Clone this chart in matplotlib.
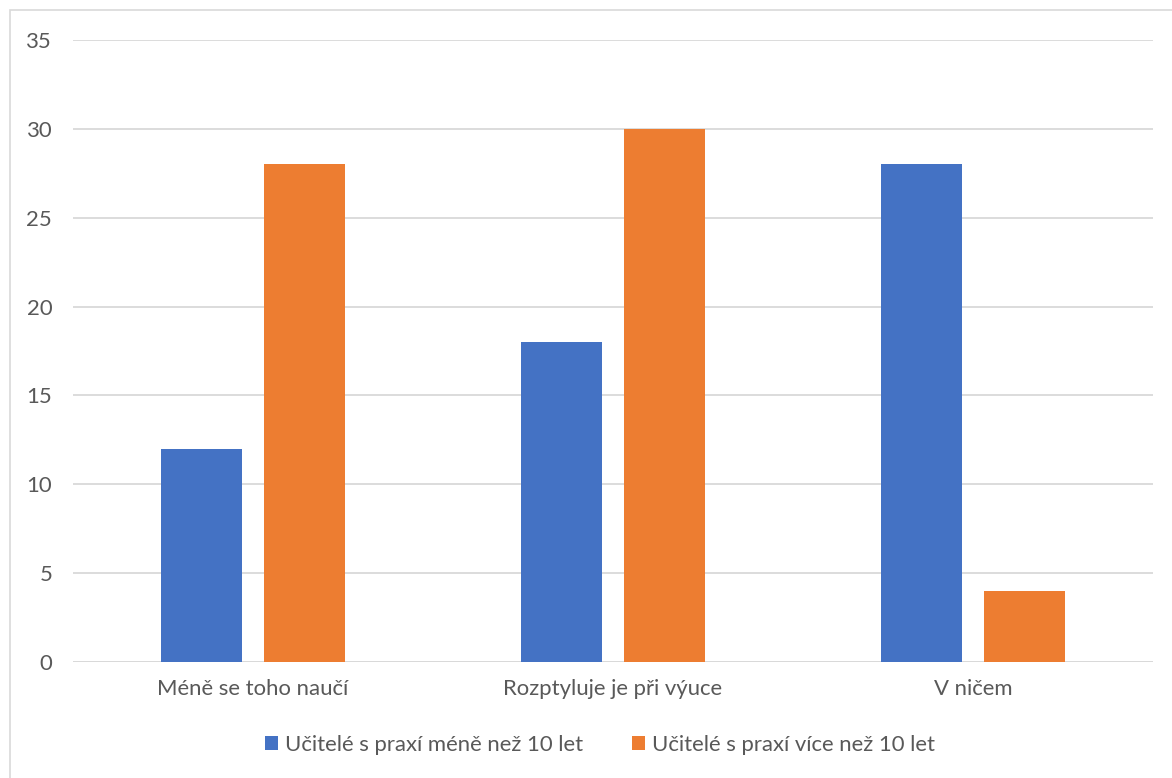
import matplotlib.pyplot as plt
import numpy as np
from matplotlib.patches import Rectangle

# data
categories = ["Méně se toho naučí", "Rozptyluje je při výuce", "V ničem"]
mene_10 = [12, 18, 28]
vice_10 = [28, 30, 4]
series_names = ["Učitelé s praxí méně než 10 let", "Učitelé s praxí více než 10 let"]

plt.rcParams['font.family'] = ['Lato', 'DejaVu Sans']

W, H = 1172, 778
fig = plt.figure(figsize=(W / 100, H / 100), dpi=100)

# plot area in pixels: x 73..1153, y 40..662
ax = fig.add_axes([73 / W, 1 - 662 / H, 1080 / W, 622 / H])

x = np.arange(len(categories))
w = 0.225
off = 0.143
ax.bar(x - off, mene_10, w, color='#4472C4', label=series_names[0], zorder=3)
ax.bar(x + off, vice_10, w, color='#ED7D31', label=series_names[1], zorder=3)

ax.set_xlim(-0.5, 2.5)
ax.set_ylim(0, 35)
ax.set_yticks(range(0, 36, 5))
ax.set_xticks(x)
ax.set_xticklabels(categories)
ax.yaxis.grid(True, color='#D9D9D9', linewidth=1.3, zorder=0)
for s in ax.spines.values():
    s.set_visible(False)
ax.axhline(0, color='#D9D9D9', linewidth=1.3, zorder=2)
ax.tick_params(axis='both', length=0, labelsize=15.9, colors='#595959')
ax.tick_params(axis='x', pad=12)
ax.tick_params(axis='y', pad=15)

leg = fig.legend(loc='center', bbox_to_anchor=(600 / W, 1 - 745 / H), ncol=2, frameon=False,
                 fontsize=15.9, handlelength=0.6, handleheight=0.6, handletextpad=0.32,
                 columnspacing=2.2)
for t in leg.get_texts():
    t.set_color('#595959')

# chart border
fig.patches.append(Rectangle((10 / W, -0.1), 1.2, 1 - 10 / H + 0.1, transform=fig.transFigure,
                             fill=False, edgecolor='#D9D9D9', linewidth=1.2))

fig.savefig('out.png', dpi=100)
